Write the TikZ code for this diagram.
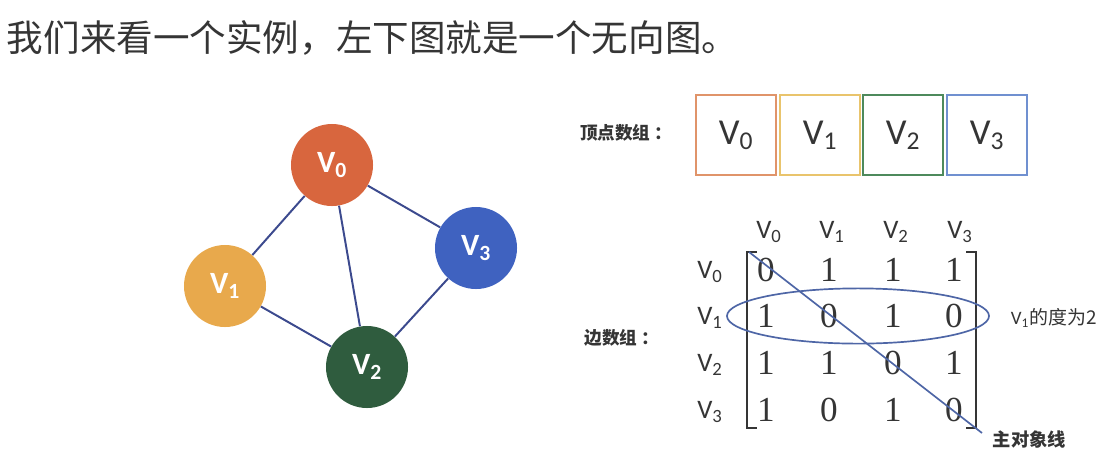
\documentclass[tikz,border=0pt]{standalone}
\usepackage{amsmath}
\usepackage{xcolor}
\usepackage{fontspec}
\setmainfont{Liberation Serif}
\setsansfont{Carlito}
\newfontfamily\cjk{Noto Sans CJK SC}
\usetikzlibrary{shapes.geometric}
\definecolor{txt}{HTML}{353535}
\definecolor{edgeblue}{HTML}{3C4A8E}
\definecolor{linblue}{HTML}{4E66A6}
\definecolor{vred}{HTML}{D8663E}
\definecolor{vyel}{HTML}{E8A94C}
\definecolor{vgrn}{HTML}{2F5C3E}
\definecolor{vblu}{HTML}{3F62C0}
\definecolor{bred}{HTML}{E0946A}
\definecolor{byel}{HTML}{E9C46C}
\definecolor{bgrn}{HTML}{4E8A5C}
\definecolor{bblu}{HTML}{7090D0}
\newcommand{\vname}[1]{V$_{\text{#1}}$}

\begin{document}
\begin{tikzpicture}[x=0.025cm, y=-0.025cm,
  vtx/.style={circle, minimum size=2.05cm, inner sep=0pt, text=white, font=\sffamily\bfseries\fontsize{22}{22}\selectfont},
  cell/.style={draw, minimum width=2.0cm, minimum height=2.0cm, inner sep=0pt, line width=1pt, text=txt, font=\sffamily\fontsize{26}{26}\selectfont},
  hd/.style={text=txt, font=\sffamily\fontsize{19}{19}\selectfont},
  num/.style={text=txt, font=\fontsize{25}{25}\selectfont},
  lbl/.style={text=txt, font=\cjk\bfseries\fontsize{12.5}{13}\selectfont},
  edge/.style={draw=edgeblue, line width=1.4pt}
]
\useasboundingbox (0,0) rectangle (1114,470);

\node[anchor=west, text=txt, font=\cjk\fontsize{26}{30}\selectfont] (title) at (2,38) {我们来看一个实例，左下图就是一个无向图。};

% undirected graph
\node[vtx, fill=vred] (g0) at (332,165) {\vname{0}};
\node[vtx, fill=vyel] (g1) at (225,286) {\vname{1}};
\node[vtx, fill=vgrn] (g2) at (367,367) {\vname{2}};
\node[vtx, fill=vblu] (g3) at (476,248) {\vname{3}};
\draw[edge] (g0) -- (g1);
\draw[edge] (g0) -- (g2);
\draw[edge] (g0) -- (g3);
\draw[edge] (g1) -- (g2);
\draw[edge] (g2) -- (g3);

% vertex array
\node[lbl] (vlbl) at (626,133) {顶点数组 ：};
\node[cell, draw=bred] (a0) at (736,135) {\vname{0}};
\node[cell, draw=byel] (a1) at (820,135) {\vname{1}};
\node[cell, draw=bgrn] (a2) at (903,135) {\vname{2}};
\node[cell, draw=bblu] (a3) at (987,135) {\vname{3}};

% edge array
\node[lbl] (elbl) at (622,338) {边数组 ：};
\node[hd] (c0) at (769,232) {\vname{0}};
\node[hd] (c1) at (832,232) {\vname{1}};
\node[hd] (c2) at (896,232) {\vname{2}};
\node[hd] (c3) at (960,232) {\vname{3}};
\node[hd] (r0) at (710,272) {\vname{0}};
\node[hd] (r1) at (710,318) {\vname{1}};
\node[hd] (r2) at (710,365) {\vname{2}};
\node[hd] (r3) at (710,412) {\vname{3}};

\node[num] (m00) at (766,270) {0}; \node[num] (m01) at (829,270) {1}; \node[num] (m02) at (893,270) {1}; \node[num] (m03) at (954,270) {1};
\node[num] (m10) at (766,316) {1}; \node[num] (m11) at (829,316) {0}; \node[num] (m12) at (893,316) {1}; \node[num] (m13) at (954,316) {0};
\node[num] (m20) at (766,363) {1}; \node[num] (m21) at (829,363) {1}; \node[num] (m22) at (893,363) {0}; \node[num] (m23) at (954,363) {1};
\node[num] (m30) at (766,410) {1}; \node[num] (m31) at (829,410) {0}; \node[num] (m32) at (893,410) {1}; \node[num] (m33) at (954,410) {0};

\draw[txt, line width=1.8pt] (757,252) -- (747,252) -- (747,428) -- (757,428);
\draw[txt, line width=1.8pt] (966,252) -- (976,252) -- (976,428) -- (966,428);

\node[draw=linblue, line width=1.2pt, ellipse, minimum width=6.55cm, minimum height=1.38cm, inner sep=0pt] (deg) at (858,316) {};
\node[anchor=west, text=txt, font=\cjk\fontsize{13.5}{14}\selectfont] (deglbl) at (1006,318) {{\sffamily\vname{1}}的度为2};

\coordinate (dtop) at (749,252);
\coordinate (dend) at (982,433);
\draw[linblue, line width=1.2pt] (dtop) -- (dend);
\node[anchor=west, text=txt, font=\cjk\bfseries\fontsize{13}{14}\selectfont] (diaglbl) at (988,440) {主对象线};
\end{tikzpicture}
\end{document}
